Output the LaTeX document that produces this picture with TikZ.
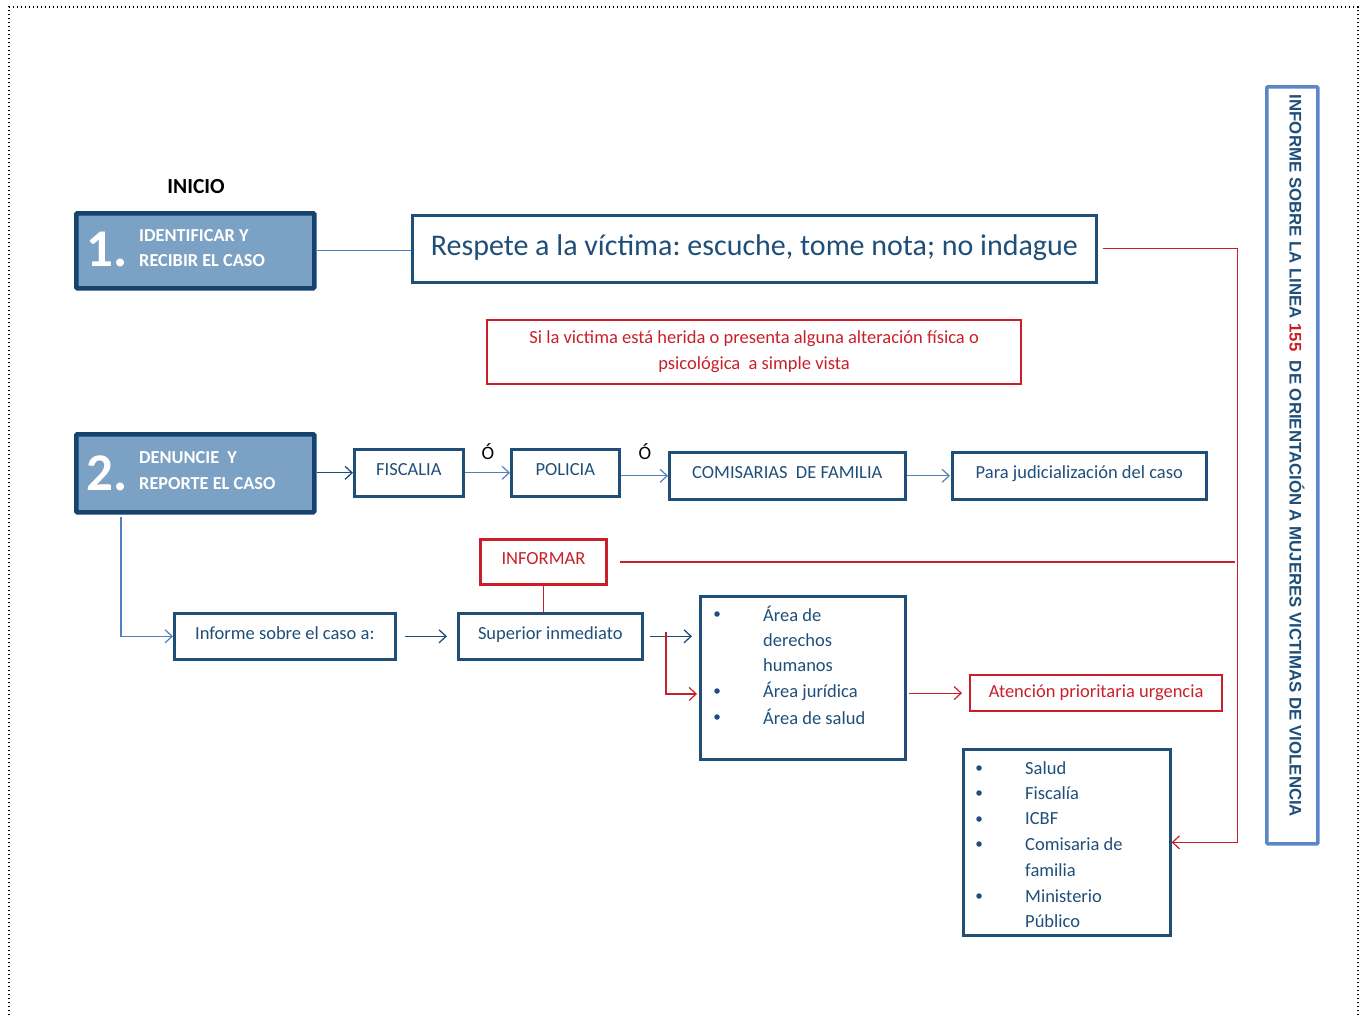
\documentclass[tikz,border=0pt]{standalone}
\usepackage{fontspec}
\setmainfont{Carlito}
\newfontfamily\arialf{Liberation Sans}
\usetikzlibrary{arrows.meta}
\definecolor{dblue}{RGB}{31,78,121}
\definecolor{lblue}{RGB}{79,129,189}
\definecolor{rred}{RGB}{200,32,42}
\definecolor{numfill}{RGB}{123,161,196}
\definecolor{numborder}{RGB}{22,66,110}
\definecolor{vblue}{RGB}{91,135,199}
\frenchspacing
\tikzset{
  bbox/.style={draw=dblue, line width=2.6pt, text=dblue, inner sep=0pt, rectangle, font=\fontsize{18.5}{22}\selectfont},
  rbox/.style={draw=rred, line width=2.2pt, text=rred, inner sep=0pt, rectangle, font=\fontsize{18.5}{22}\selectfont},
  up/.style={text depth=7pt},
  nbox/.style={draw=numborder, fill=numfill, line width=4.5pt, inner sep=0pt, rectangle, rounded corners=1pt},
  numtxt/.style={text=white, font=\bfseries\fontsize{53}{53}\selectfont, inner sep=0pt},
  numlbl/.style={text=white, font=\bfseries\fontsize{18.3}{22}\selectfont, inner sep=0pt, anchor=west},
  itm/.style={text=dblue, font=\fontsize{18.5}{22}\selectfont, inner sep=0pt, anchor=west},
  bul/.style={fill=dblue, circle, inner sep=0pt, minimum size=5.5pt},
  tip/.style={-{Straight Barb[length=7pt,width=13pt]}},
  lconn/.style={draw=lblue, line width=1.2pt},
  dconn/.style={draw=dblue, line width=1.3pt},
  rline/.style={draw=rred, line width=1.2pt},
  dotborder/.style={draw=black, line width=1.4pt, dash pattern=on 1.4pt off 2.6pt}
}
\begin{document}
\begin{tikzpicture}[x=1pt,y=-1pt]
\useasboundingbox (0,0) rectangle (1362,1015);
\draw[dotborder] (9,1015) -- (9,7) -- (1358,7) -- (1358,1015);

% INICIO
\node[font=\bfseries\fontsize{21.5}{24}\selectfont, inner sep=0pt] (inicio) at (196,187) {INICIO};

% Box 1
\node[nbox, minimum width=238pt, minimum height=75pt, anchor=north west] (b1) at (74,211) {};
\node[numtxt, anchor=west] (b1n) at (86,249) {1.};
\node[numlbl] (b1t1) at (139,236) {IDENTIFICAR Y};
\node[numlbl] (b1t2) at (139,261) {RECIBIR EL CASO};

% Respete box
\node[bbox, up, text depth=8pt, minimum width=684pt, minimum height=67pt, anchor=north west, font=\fontsize{30}{34}\selectfont] (resp) at (411,214) {Respete a la víctima: escuche, tome nota; no indague};

% red info box
\node[rbox, minimum width=534pt, minimum height=64pt, anchor=north west, align=center, font=\fontsize{18.5}{26}\selectfont] (si) at (486,319) {Si la victima está herida o presenta alguna alteración física o\\psicológica \ a simple vista};

% Box 2
\node[nbox, minimum width=238pt, minimum height=78pt, anchor=north west] (b2) at (74,432) {};
\node[numtxt, anchor=west] (b2n) at (86,473) {2.};
\node[numlbl] (b2t1) at (139,458) {DENUNCIE \ Y};
\node[numlbl] (b2t2) at (139,484) {REPORTE EL CASO};

% row 2 boxes
\node[bbox, up, minimum width=109pt, minimum height=47pt, anchor=north west] (fis) at (353,448) {FISCALIA};
\node[bbox, up, minimum width=108pt, minimum height=47pt, anchor=north west] (pol) at (510,448) {POLICIA};
\node[bbox, up, minimum width=236pt, minimum height=47pt, anchor=north west] (com) at (668,451) {COMISARIAS \ DE FAMILIA};
\node[bbox, up, minimum width=254pt, minimum height=47pt, anchor=north west] (jud) at (951,451) {Para judicialización del caso};
\node[font=\fontsize{19}{21}\selectfont, inner sep=0pt] (o1) at (488,452) {Ó};
\node[font=\fontsize{19}{21}\selectfont, inner sep=0pt] (o2) at (645,452) {Ó};

% row 3
\node[rbox, up, line width=2.8pt, minimum width=126pt, minimum height=45pt, anchor=north west] (infm) at (479,538) {INFORMAR};
\node[bbox, up, minimum width=221pt, minimum height=46pt, anchor=north west] (inf) at (173,612) {Informe sobre el caso a:};
\node[bbox, up, minimum width=184pt, minimum height=46pt, anchor=north west] (sup) at (457,612) {Superior inmediato};

% areas box
\node[bbox, minimum width=205pt, minimum height=163pt, anchor=north west] (areas) at (699,595) {};
\node[bul] (ab1) at (717,614) {};
\node[bul] (ab2) at (717,691) {};
\node[bul] (ab3) at (717,717) {};
\node[itm] (at1) at (763,614) {Área de};
\node[itm] (at2) at (763,640) {derechos};
\node[itm] (at3) at (763,665) {humanos};
\node[itm] (at4) at (763,691) {Área jurídica};
\node[itm] (at5) at (763,717) {Área de salud};

% atencion
\node[rbox, minimum width=252pt, minimum height=36pt, anchor=north west] (aten) at (969,674) {Atención prioritaria urgencia};

% bottom right box
\node[bbox, minimum width=207pt, minimum height=186pt, anchor=north west] (bot) at (962,748) {};
\node[bul] (bb1) at (979,768) {};
\node[bul] (bb2) at (979,793) {};
\node[bul] (bb3) at (979,819) {};
\node[bul] (bb4) at (979,844) {};
\node[bul] (bb5) at (979,896) {};
\node[itm] (bt1) at (1025,768) {Salud};
\node[itm] (bt2) at (1025,793) {Fiscalía};
\node[itm] (bt3) at (1025,819) {ICBF};
\node[itm] (bt4) at (1025,844) {Comisaria de};
\node[itm] (bt5) at (1025,870) {familia};
\node[itm] (bt6) at (1025,896) {Ministerio};
\node[itm] (bt7) at (1025,921) {Público};

% vertical box
\node[draw=vblue, line width=3.5pt, minimum width=51pt, minimum height=757pt, anchor=north west, inner sep=0pt, rounded corners=1pt] (vbox) at (1265,85) {};
\node[rotate=-90, text=dblue, inner sep=0pt, font=\arialf\bfseries\fontsize{16.8}{19}\selectfont] (vt) at (1297,456) {INFORME SOBRE LA LINEA \textcolor{rred}{155} \ DE ORIENTACIÓN A MUJERES VICTIMAS DE VIOLENCIA};

% coordinates
\coordinate (rj) at (1235,558);
\coordinate (b2d) at (121,517);
\coordinate (split) at (666,632);

% connectors
\draw[lconn] (b1.east) -- (b1.east -| resp.west);
\draw[rline, tip] ([xshift=5pt]resp.east) -| ([xshift=66pt]bot.east) -- (bot.east);
\draw[rline] ([xshift=12pt]infm.east) -- (infm.east -| rj);
\draw[rline] (infm.south) -- (infm.south |- sup.north);
\draw[dconn, tip] (b2.east |- fis.west) -- (fis.west);
\draw[lconn, tip] (fis.east) -- (pol.west);
\draw[lconn, tip] (pol.east |- com.west) -- (com.west);
\draw[lconn, tip] (com.east) -- ([xshift=-1pt]jud.west);
\draw[lconn, tip] (b2d) |- (inf.west);
\draw[dconn, tip] ([xshift=8pt]inf.east) -- ([xshift=-10pt]sup.west);
\draw[dconn, tip] ([xshift=6pt]sup.east) -- ([xshift=-7pt]areas.west |- sup.east);
\draw[rline, tip] (split) |- ([xshift=-2pt]areas.west |- ab2.south);
\draw[rline, tip] ([xshift=2pt]areas.east |- aten.west) -- ([xshift=-7pt]aten.west);
\end{tikzpicture}
\end{document}
